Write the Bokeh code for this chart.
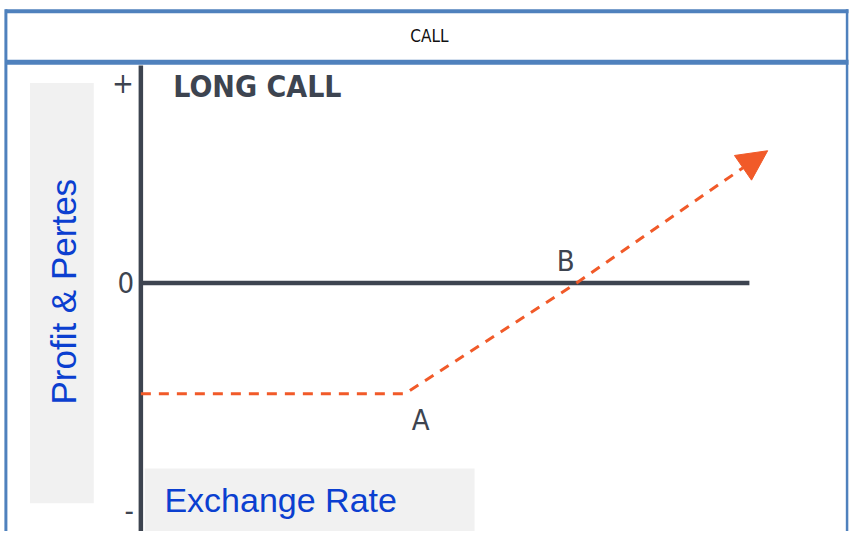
from math import pi
from bokeh.plotting import figure
from bokeh.models import Range1d, Arrow, NormalHead
from bokeh.core.properties import value
from bokeh.embed import file_html
from bokeh.resources import INLINE

# ---------------- data ----------------
header_text = "CALL"
chart_title = "LONG CALL"
y_axis_title = "Profit & Pertes"
x_axis_title = "Exchange Rate"

exchange_rate = [0.0, 4.34, 7.16]          # payoff polyline (x)
profit = [-2.0, -2.0, 0.0]                 # payoff polyline (y)
arrow_end_x = [10.3]
arrow_end_y = [2.39]
point_labels = ["A", "B"]
point_x = [4.34, 7.16]
point_y = [-2.0, 0.0]
zero_line_x = [0.0, 10.0]
y_tick_values = [3.62, 0.0, -4.12]
y_tick_labels = ["+", "0", "-"]

# ---------------- layout constants ----------------
W, H = 850, 531              # canvas size
RW, RH = 866, 547            # design (reference) space
ORIGIN_PX, ZERO_PY = 143, 291
SX, SY = 62.0, 57.0          # design px per data unit

def dx(px):
    return (px - ORIGIN_PX) / SX

def dy(py):
    return (ZERO_PY - py) / SY

DARK = "#3d4450"
ORANGE = "#f15a29"
BLUE_FRAME = "#4f81bd"
BLUE_TEXT = "#0b3fd0"
GRAY_BOX = "#f1f1f1"
COND = value("'DejaVu Sans Condensed', 'Liberation Sans Narrow', Roboto, sans-serif")
ARIAL = value("Liberation Sans")

p = figure(width=W, height=H, output_backend="svg", toolbar_location=None,
           x_axis_location=None, y_axis_location=None,
           x_range=Range1d(dx(0), dx(RW)),
           y_range=Range1d(dy(RH), dy(0)),
           min_border=0, outline_line_color=None,
           background_fill_color="white", border_fill_color="white")
p.grid.visible = False
p.extra_x_ranges = {"px": Range1d(0, RW)}
p.extra_y_ranges = {"px": Range1d(RH, 0)}
PX = dict(x_range_name="px", y_range_name="px")

# gray label boxes
p.quad(left=[30], right=[95], top=[85], bottom=[518], fill_color=GRAY_BOX,
       line_color=None, **PX)
p.quad(left=[147], right=[483], top=[482], bottom=[560], fill_color=GRAY_BOX,
       line_color=None, **PX)

# outer frame + header
p.segment(x0=[5], y0=[11], x1=[864], y1=[11], line_color=BLUE_FRAME,
          line_width=4, **PX)
p.segment(x0=[5], y0=[63.5], x1=[864], y1=[63.5], line_color=BLUE_FRAME,
          line_width=5, **PX)
p.segment(x0=[5.5], y0=[9], x1=[5.5], y1=[560], line_color=BLUE_FRAME,
          line_width=3, **PX)
p.segment(x0=[862.5], y0=[9], x1=[862.5], y1=[560], line_color=BLUE_FRAME,
          line_width=2.5, **PX)
p.text(x=[437], y=[37], text=[header_text], text_align="center",
       text_baseline="middle", text_font=COND,
       text_font_size="17px", text_color="#111111", **PX)

# vertical axis line
p.segment(x0=[0], y0=[dy(67)], x1=[0], y1=[dy(560)], line_color=DARK,
          line_width=4.5)
# zero line
p.line(x=zero_line_x, y=[0, 0], line_color=DARK, line_width=4.5)

# y tick labels
p.text(x=[dx(136)] * 3, y=y_tick_values, text=y_tick_labels, text_align="right",
       text_baseline="middle", text_font=COND,
       text_font_size="29px", text_color=DARK)

# chart title
p.text(x=[dx(176)], y=[dy(89)], text=[chart_title], text_align="left",
       text_baseline="middle", text_font=COND,
       text_font_style="bold", text_font_size="30px", text_color=DARK)

# payoff line
p.line(x=exchange_rate, y=profit, line_color=ORANGE, line_width=3,
       line_dash="10 8")
p.add_layout(Arrow(x_start=exchange_rate[-1], y_start=profit[-1],
                   x_end=arrow_end_x[0], y_end=arrow_end_y[0],
                   line_color=ORANGE, line_width=3, line_dash="10 8",
                   end=NormalHead(size=30, fill_color=ORANGE,
                                  line_color=ORANGE, line_width=1)))

# point labels A, B
p.text(x=[point_x[0] + dx(428) - dx(412)], y=[dy(432)], text=[point_labels[0]],
       text_align="center", text_baseline="middle", text_font=COND,
       text_font_size="29px", text_color=DARK)
p.text(x=[point_x[1] + dx(576) - dx(587)], y=[dy(268)], text=[point_labels[1]],
       text_align="center", text_baseline="middle", text_font=COND,
       text_font_size="29px", text_color=DARK)

# axis titles
p.text(x=[64], y=[300], text=[y_axis_title], angle=pi / 2, text_align="center",
       text_baseline="middle", text_font=ARIAL,
       text_font_size="35px", text_color=BLUE_TEXT, **PX)
p.text(x=[167], y=[515], text=[x_axis_title], text_align="left",
       text_baseline="middle", text_font=ARIAL,
       text_font_size="34px", text_color=BLUE_TEXT, **PX)

open("out.html", "w").write(file_html(p, INLINE))
